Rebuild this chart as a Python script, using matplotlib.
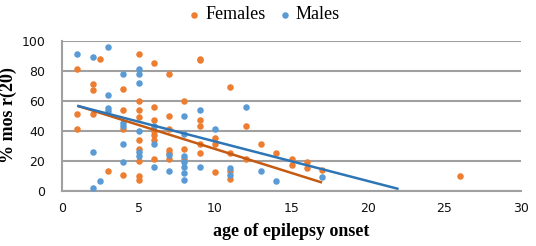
import matplotlib
matplotlib.use("Agg")
import matplotlib.pyplot as plt
import numpy as np

# ---- data ----
fem_x = [1, 1, 1, 2, 2, 2, 2.5, 3, 4, 4, 4, 4,
         5, 5, 5, 5, 5, 5, 5, 5, 5,
         6, 6, 6, 6, 6, 6, 6,
         7, 7, 7, 7, 7, 7,
         8, 8, 8,
         9, 9, 9, 9, 9, 9,
         10, 10, 10,
         11, 11, 11, 11,
         12, 12, 13, 14, 15, 15, 16, 16, 17, 26]
fem_y = [81, 51, 41, 71, 67, 51, 88, 13, 68, 54, 41, 10.5,
         91, 60, 54, 49, 34, 28, 20, 10, 7,
         85, 56, 47, 40, 37, 34, 21,
         78, 50, 41, 27, 25, 21,
         60, 28, 21,
         88, 87, 47, 43, 31, 25,
         35, 31, 12.5,
         69, 25, 13, 8,
         43, 21, 31, 25, 21, 17, 19, 15, 14, 10]

male_x = [1, 2, 2, 2, 2.5, 3, 3, 3, 3,
          4, 4, 4, 4, 4,
          5, 5, 5, 5, 5, 5,
          6, 6, 6, 7, 7,
          8, 8, 8, 8, 8, 8, 8,
          9, 9, 10, 11, 11, 12, 13, 14, 17]
male_y = [91, 89, 26, 1.5, 6.5, 96, 64, 55, 53,
          78, 45, 43, 31, 19,
          81, 78, 72, 40, 26, 23,
          43, 31, 16, 24, 13,
          50, 38, 23, 19, 16, 12, 7,
          54, 16, 41, 15, 10.5, 56, 13, 6.5, 9]

# trend lines: (x start, x end, intercept, slope)
fem_trend = (1, 17, 59.7, -3.2)
male_trend = (1, 22, 59.1, -2.64)

series_names = ["Females", "Males"]
x_ticks = [0, 5, 10, 15, 20, 25, 30]
y_ticks = [0, 20, 40, 60, 80, 100]

ORANGE = "#ED7D31"
BLUE = "#5B9BD5"
ORANGE_LINE = "#C55A11"
BLUE_LINE = "#2E75B6"
GRID = "#A0A0A0"

fig = plt.figure(figsize=(5.36, 2.46), dpi=100)
ax = fig.add_axes([62 / 536, 1 - 190.5 / 246, 459 / 536, 150 / 246])

ax.scatter(fem_x, fem_y, s=22, color=ORANGE, linewidths=0, zorder=3, label=series_names[0])
ax.scatter(male_x, male_y, s=22, color=BLUE, linewidths=0, zorder=3, label=series_names[1])

for (x0, x1, b, m), c in [(fem_trend, ORANGE_LINE), (male_trend, BLUE_LINE)]:
    xs = np.array([x0, x1])
    ax.plot(xs, b + m * xs, color=c, lw=1.8, zorder=4, solid_capstyle="butt")

ax.set_xlim(0, 30)
ax.set_ylim(0, 100)
ax.set_xticks(x_ticks)
ax.set_yticks(y_ticks)
ax.grid(axis="y", color=GRID, lw=1.5, zorder=0)
ax.set_axisbelow(True)
for s in ["top", "right"]:
    ax.spines[s].set_visible(False)
for s in ["left", "bottom"]:
    ax.spines[s].set_color(GRID)
    ax.spines[s].set_linewidth(1.5)
ax.tick_params(length=0, labelsize=9, colors="#111111", pad=8)
ax.tick_params(axis="y", pad=12)

ax.set_xlabel("age of epilepsy onset", fontfamily="Liberation Serif",
              fontweight="bold", fontsize=13, labelpad=6)
ax.set_ylabel("% mos r(20)", fontfamily="Liberation Serif",
              fontweight="bold", fontsize=13)
ax.yaxis.set_label_coords(-0.098, 0.5)

leg = fig.legend(loc="upper center", bbox_to_anchor=(0.49, 1.04), ncol=2, frameon=False,
                 prop={"family": "Liberation Serif", "size": 13},
                 handletextpad=0.1, columnspacing=0.6, handlelength=1.0)

fig.savefig("out.png", dpi=100)
